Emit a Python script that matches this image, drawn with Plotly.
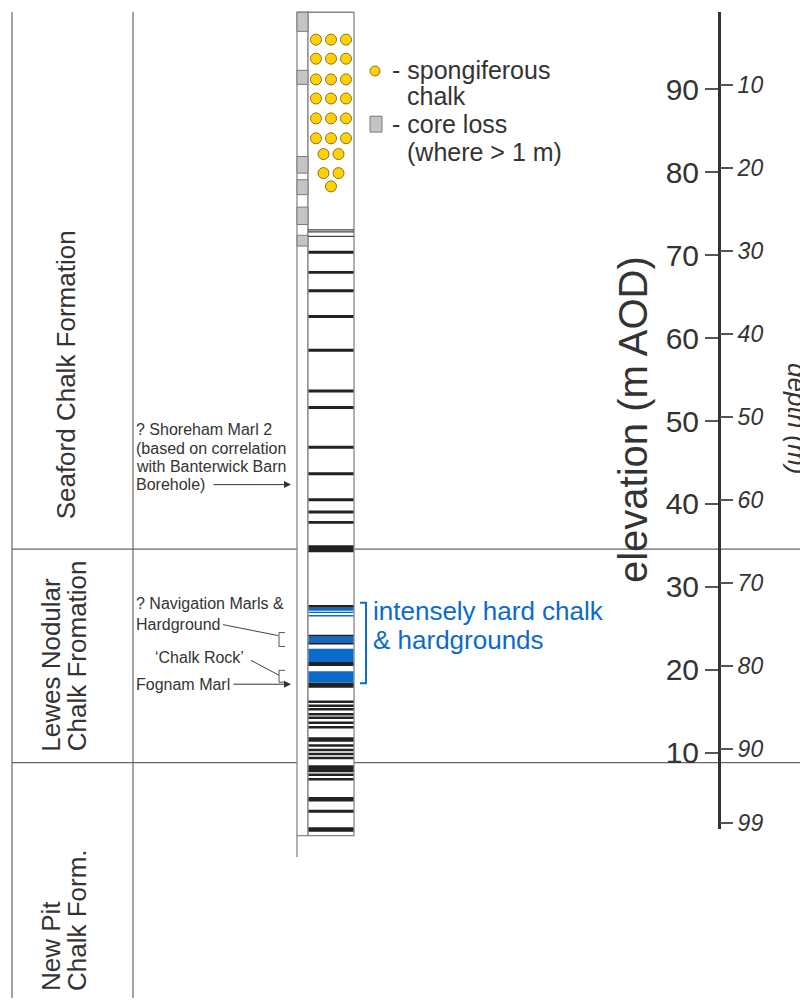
import plotly.graph_objects as go

# ---------------- borehole log data (elevations in m AOD) ----------------
elevation_ticks = [10, 20, 30, 40, 50, 60, 70, 80, 90]
depth_ticks = [10, 20, 30, 40, 50, 60, 70, 80, 90, 99]
ground_level = 100.5          # collar elevation, depth 0
log_top, log_base = 99.3, 0.0
scale_top, scale_base = 99.3, 0.8

formation_bases = [34.55, 8.8]   # Seaford/Lewes, Lewes/New Pit

core_loss_top = [99.3, 92.3, 81.9, 79.1, 75.8, 72.4]
core_loss_base = [97.0, 90.6, 79.9, 77.3, 73.7, 71.1]

sponge_row_elev = [96.0, 93.7, 91.2, 88.9, 86.5, 84.1, 82.2, 79.9, 78.3]
sponge_row_count = [3, 3, 3, 3, 3, 3, 2, 2, 1]

hairline_elev = [73.05, 72.81, 72.28]

marl_top = [70.54, 68.11, 65.90, 62.79, 58.72, 53.81, 51.82, 47.03, 43.83,
            40.68, 39.20, 37.96, 35.03,
            27.81, 24.22, 23.33, 20.94, 18.47,
            16.29, 15.81, 15.39, 14.79, 14.37, 13.77, 13.23, 11.86, 11.02,
            10.48, 10.00, 9.52, 8.50, 7.49, 6.95, 4.67, 3.11, 1.02]
marl_base = [70.18, 67.75, 65.54, 62.43, 58.36, 53.45, 51.46, 46.67, 43.47,
             40.32, 38.84, 37.60, 34.19,
             27.49, 23.99, 23.05, 20.46, 17.83,
             15.99, 15.51, 15.09, 14.49, 14.07, 13.47, 12.93, 11.32, 10.72,
             10.18, 9.70, 9.22, 7.66, 7.19, 6.65, 4.13, 2.75, 0.48]

hard_top = [27.49, 27.01, 26.61, 23.99, 22.54, 19.82]
hard_base = [27.13, 26.85, 26.44, 23.33, 20.94, 18.47]

# ---------------- page geometry ----------------
W, H = 800, 1007
PX_PER_M = 8.35


def el(py):
    """elevation (m AOD) for a vertical page position in pixels"""
    return 90 - (py - 90) / PX_PER_M


def py_of(e):
    return 90 + (90 - e) * PX_PER_M


AXIS_X = 719
COL_L, COL_R = 308, 354          # lithology column
CL_L, CL_R = 297, 308            # core-loss column
COL_MID = (COL_L + COL_R) / 2
DOT_STEP = 15

TXT = "#333333"
LINE = "#666666"
BLUE = "#0b6bcb"
FONT = "Liberation Sans, Arial, sans-serif"

fig = go.Figure()
shapes = []

# formation table frame
for xv in (12, 133):
    shapes.append(dict(type="line", x0=xv, x1=xv, y0=el(12), y1=el(1005), layer="below",
                       line=dict(color=LINE, width=1.2)))
for b in formation_bases:
    shapes.append(dict(type="line", x0=12, x1=W, y0=b, y1=b, layer="below",
                       line=dict(color=LINE, width=1.2)))

# core loss column and lithology column frames
shapes.append(dict(type="rect", x0=CL_L, x1=CL_R, y0=log_base, y1=log_top, layer="below",
                   line=dict(color="#888888", width=1.3), fillcolor="white"))
shapes.append(dict(type="line", x0=CL_L, x1=CL_L, y0=log_base, y1=el(863), layer="below",
                   line=dict(color="#888888", width=1.3)))
shapes.append(dict(type="rect", x0=COL_L, x1=COL_R, y0=log_base, y1=log_top, layer="below",
                   line=dict(color="#888888", width=1.3), fillcolor="white"))

# core loss intervals
for t, b in zip(core_loss_top, core_loss_base):
    shapes.append(dict(type="rect", x0=CL_L, x1=CL_R, y0=b, y1=t,
                       line=dict(color="#7a7a7a", width=1), fillcolor="#c4c4c4"))

# thin flaser lines
for h in hairline_elev:
    shapes.append(dict(type="line", x0=COL_L, x1=COL_R, y0=h, y1=h,
                       line=dict(color="#444444", width=1.2)))

# marls
for t, b in zip(marl_top, marl_base):
    shapes.append(dict(type="rect", x0=COL_L + 0.5, x1=COL_R - 0.5, y0=b, y1=t,
                       line=dict(width=0), fillcolor="#222222"))

# hard chalk / hardgrounds
for t, b in zip(hard_top, hard_base):
    shapes.append(dict(type="rect", x0=COL_L + 0.5, x1=COL_R - 0.5, y0=b, y1=t,
                       line=dict(width=0), fillcolor=BLUE))

# bracket for the hard chalk interval
bt, bb = el(607), el(688)
shapes.append(dict(type="path",
                   path=f"M 360,{bt} L 366,{bt} L 366,{bb} L 360,{bb}",
                   line=dict(color=BLUE, width=2)))

# small brackets beside the column
for y0, y1 in ((637, 651), (675, 687)):
    shapes.append(dict(type="path",
                       path=f"M 285,{el(y0)} L 279,{el(y0)} L 279,{el(y1)} L 285,{el(y1)}",
                       line=dict(color="#555555", width=1)))

# leader lines
shapes.append(dict(type="line", x0=223, y0=el(629), x1=278, y1=el(640),
                   line=dict(color="#444444", width=1)))
shapes.append(dict(type="line", x0=251, y0=el(665), x1=279, y1=el(680),
                   line=dict(color="#444444", width=1)))

# legend core-loss box
shapes.append(dict(type="rect", x0=370, x1=382, y0=el(133), y1=el(117),
                   line=dict(color="#7a7a7a", width=1), fillcolor="#c4c4c4"))

# spongiferous chalk dots
dx, dy = [], []
for e, n in zip(sponge_row_elev, sponge_row_count):
    for i in range(n):
        dx.append(COL_MID + (i - (n - 1) / 2) * DOT_STEP)
        dy.append(e)
fig.add_trace(go.Scatter(x=dx, y=dy, mode="markers", hoverinfo="skip",
                         marker=dict(size=11, color="#ffd200",
                                     line=dict(color="#8a7420", width=1))))
# legend dot
fig.add_trace(go.Scatter(x=[375], y=[el(71.5)], mode="markers", hoverinfo="skip",
                         marker=dict(size=10, color="#ffd200",
                                     line=dict(color="#8a7420", width=1))))

# invisible traces carrying the elevation and depth scales
fig.add_trace(go.Scatter(x=[None], y=[None], xaxis="x", yaxis="y2", showlegend=False))
fig.add_trace(go.Scatter(x=[None], y=[None], xaxis="x", yaxis="y3", showlegend=False))

ann = []


def text(x, py, s, size=16, color=TXT, xanchor="left", yanchor="middle",
         angle=0, style="normal", yval=None):
    ann.append(dict(x=x, y=el(py) if yval is None else yval, text=s,
                    showarrow=False, xanchor=xanchor, yanchor=yanchor,
                    textangle=angle,
                    font=dict(size=size, color=color, family=FONT, style=style)))


# legend
text(390, 70, "- spongiferous", size=25)
text(405, 97, "chalk", size=25)
text(390, 125, "- core loss", size=25)
text(405, 153, "(where > 1 m)", size=25)

# hard chalk label
text(371, 615, "intensely hard chalk", size=26, color=BLUE)
text(371, 644, "& hardgrounds", size=26, color=BLUE)

# marker bed notes
text(134, 433, "? Shoreham Marl 2")
text(134, 452, "(based on correlation")
text(134, 470, "with Banterwick Barn")
text(134, 488, "Borehole)")
text(134, 608, "? Navigation Marls &")
text(134, 629, "Hardground")
text(199, 662, "\u2018Chalk Rock\u2019", xanchor="center")
text(134, 689, "Fognam Marl")

for tail, py in ((212, 488), (232, 689)):
    ann.append(dict(x=291, y=el(py), ax=tail, ay=el(py), axref="x", ayref="y",
                    text="", showarrow=True, arrowhead=2, arrowsize=1.4,
                    arrowwidth=1, arrowcolor="#333333", standoff=0, startstandoff=0))

# formation names
text(66, 378, "Seaford Chalk Formation", size=26, xanchor="center", angle=-90)
text(51, 759, "Lewes Nodular", size=26, xanchor="center", yanchor="bottom", angle=-90)
text(77, 759, "Chalk Fromation", size=26, xanchor="center", yanchor="bottom", angle=-90)
text(51, 1000, "New Pit", size=26, xanchor="center", yanchor="bottom", angle=-90)
text(77, 1000, "Chalk Form.", size=26, xanchor="center", yanchor="bottom", angle=-90)

# scale titles
text(633, 423, "elevation (m AOD)", size=40, xanchor="center", angle=-90)
text(797, 421, "depth (m)", size=26, xanchor="center", angle=90, style="italic")

dom = [(H - py_of(scale_base)) / H, (H - py_of(scale_top)) / H]

fig.update_layout(
    width=W, height=H, margin=dict(l=0, r=0, t=0, b=0),
    paper_bgcolor="white", plot_bgcolor="rgba(0,0,0,0)", showlegend=False,
    xaxis=dict(range=[0, W], visible=False, fixedrange=True),
    yaxis=dict(range=[el(H), el(0)], visible=False, fixedrange=True),
    yaxis2=dict(domain=dom, range=[scale_base, scale_top], anchor="free",
                position=AXIS_X / W, side="left", showline=True, linewidth=3,
                linecolor="#333333", ticks="outside", ticklen=13, tickwidth=1.5,
                tickcolor="#555555", tickvals=elevation_ticks, showgrid=False,
                zeroline=False, fixedrange=True,
                tickfont=dict(size=30, color=TXT, family=FONT)),
    yaxis3=dict(domain=dom, range=[ground_level - scale_base, ground_level - scale_top],
                anchor="free", position=AXIS_X / W, side="right", showline=False,
                ticks="outside", ticklen=13, tickwidth=1.5, tickcolor="#555555",
                tickvals=depth_ticks, showgrid=False, zeroline=False, fixedrange=True,
                tickfont=dict(size=23, color=TXT, family=FONT, style="italic")),
    shapes=shapes, annotations=ann,
)

fig.write_html("out.html")
